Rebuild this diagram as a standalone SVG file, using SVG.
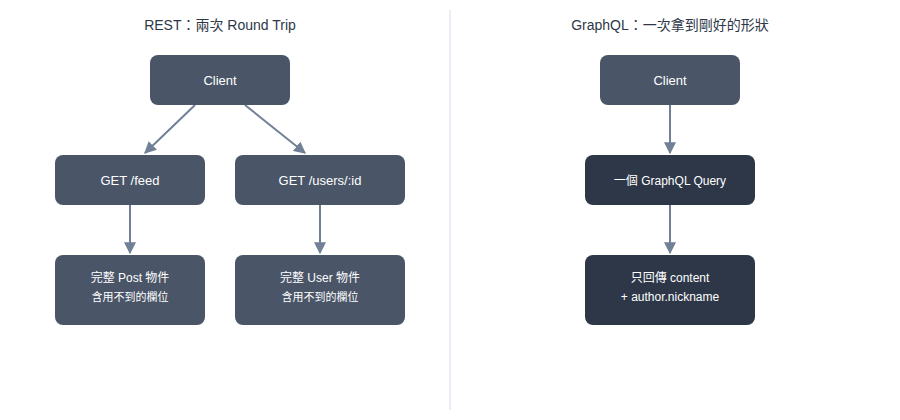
<svg xmlns="http://www.w3.org/2000/svg" width="900" height="420" viewBox="0 0 900 420">
<style>
text{font-family:"Liberation Sans","Noto Sans CJK TC",sans-serif;text-anchor:middle;fill:#fff}
.t{fill:#2d3748;font-size:14px}
.n{fill:#4a5568}.d{fill:#2d3748}
.l{font-size:13px}.s{font-size:11px}
.c{stroke:#718096;stroke-width:2;fill:none;marker-end:url(#a)}
</style>
<defs><marker id="a" viewBox="0 0 10 10" refX="9" refY="5" markerWidth="6" markerHeight="6" orient="auto"><path d="M0,0L10,5L0,10z" fill="#718096"/></marker></defs>
<rect width="900" height="420" fill="#fff"/>
<line x1="450" y1="10" x2="450" y2="410" stroke="#e2e8f0" stroke-width="1.5"/>
<text class="t" x="220" y="30">REST：兩次 Round Trip</text>
<text class="t" x="670" y="30">GraphQL：一次拿到剛好的形狀</text>
<g id="connectors">
<path class="c" d="M195,105L145,153"/>
<path class="c" d="M245,105L305,153"/>
<path class="c" d="M130,205V253"/>
<path class="c" d="M320,205V253"/>
<path class="c" d="M670,105V153"/>
<path class="c" d="M670,205V253"/>
</g>
<g id="client"><rect class="n" x="150" y="55" width="140" height="50" rx="8"/><text class="l" x="220" y="85">Client</text></g>
<g id="feed"><rect class="n" x="55" y="155" width="150" height="50" rx="8"/><text class="l" x="130" y="185">GET /feed</text></g>
<g id="users"><rect class="n" x="235" y="155" width="170" height="50" rx="8"/><text class="l" x="320" y="185">GET /users/:id</text></g>
<g id="post"><rect class="n" x="55" y="255" width="150" height="70" rx="8"/><text class="s" x="130" y="282" style="font-size:12px">完整 Post 物件</text><text class="s" x="130" y="301">含用不到的欄位</text></g>
<g id="user"><rect class="n" x="235" y="255" width="170" height="70" rx="8"/><text class="s" x="320" y="282" style="font-size:12px">完整 User 物件</text><text class="s" x="320" y="301">含用不到的欄位</text></g>
<g id="client2"><rect class="n" x="600" y="55" width="140" height="50" rx="8"/><text class="l" x="670" y="85">Client</text></g>
<g id="query"><rect class="d" x="585" y="155" width="170" height="50" rx="8"/><text class="s" x="670" y="185" style="font-size:12px">一個 GraphQL Query</text></g>
<g id="result"><rect class="d" x="585" y="255" width="170" height="70" rx="8"/><text x="670" y="282" style="font-size:12px">只回傳 content</text><text x="670" y="301" style="font-size:12px">+ author.nickname</text></g>
</svg>
